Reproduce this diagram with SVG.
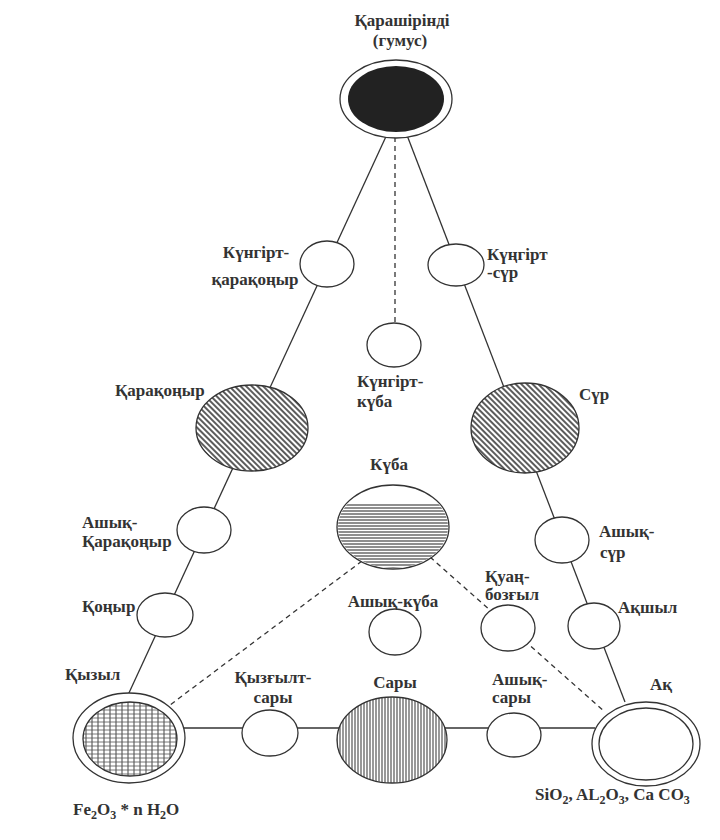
<svg xmlns="http://www.w3.org/2000/svg" width="720" height="840" viewBox="0 0 720 840">
<style>
.t{font-weight:bold;font-size:17px;fill:#333}
.m{text-anchor:middle}
.c{fill:#fff;stroke:#333;stroke-width:1.3}
.ln{stroke:#333;stroke-width:1.3;fill:none}
.ds{stroke:#333;stroke-width:1.3;fill:none;stroke-dasharray:5 4}
.s{font-size:12px}
</style>
<defs>
<pattern id="diag" width="4" height="4" patternUnits="userSpaceOnUse" patternTransform="rotate(-45)">
<rect width="4" height="4" fill="#fff"/><line x1="1" y1="0" x2="1" y2="4" stroke="#333" stroke-width="1.6"/></pattern>
<pattern id="vert" width="3" height="3" patternUnits="userSpaceOnUse">
<rect width="3" height="3" fill="#fff"/><line x1="1" y1="0" x2="1" y2="3" stroke="#444" stroke-width="1.1"/></pattern>
<pattern id="horz" width="3" height="3" patternUnits="userSpaceOnUse">
<rect width="3" height="3" fill="#fff"/><line x1="0" y1="1" x2="3" y2="1" stroke="#444" stroke-width="1.2"/></pattern>
<pattern id="grid" width="6" height="4" patternUnits="userSpaceOnUse">
<rect width="6" height="4" fill="#fff"/><line x1="2" y1="0" x2="2" y2="4" stroke="#444" stroke-width="1"/><line x1="0" y1="2" x2="6" y2="2" stroke="#555" stroke-width="0.8"/></pattern>
<clipPath id="kubaClip"><rect x="330" y="503" width="130" height="80"/></clipPath>
</defs>
<rect width="720" height="840" fill="#fff"/>
<g id="connectors">
<line class="ln" x1="389" y1="130" x2="128" y2="695"/>
<line class="ln" x1="405" y1="130" x2="625" y2="702"/>
<line class="ds" x1="395" y1="137" x2="395" y2="323"/>
<line class="ds" x1="362" y1="561" x2="170" y2="705"/>
<line class="ds" x1="430" y1="557" x2="605" y2="712"/>
<line class="ln" x1="180" y1="728" x2="595" y2="728"/>
</g>
<g font-family="'Liberation Serif', 'DejaVu Serif', serif">
<g id="humus">
<ellipse class="c" cx="396" cy="99" rx="56" ry="39"/>
<ellipse cx="396" cy="99" rx="48" ry="33" fill="#222"/>
<text class="t m" x="402" y="26">Қарашіріндi</text>
<text class="t m" x="400" y="46">(гумус)</text>
</g>
<g id="kungirt-karakonyr">
<ellipse class="c" cx="327" cy="264" rx="27" ry="23"/>
<text class="t m" x="256" y="258">Күнгірт-</text>
<text class="t m" x="255" y="285">қарақоңыр</text>
</g>
<g id="kungirt-sur">
<ellipse class="c" cx="456" cy="265" rx="28" ry="21"/>
<text class="t" x="487" y="260">Күңгірт</text>
<text class="t" x="487" y="278">-сүр</text>
</g>
<g id="kungirt-kuba">
<ellipse class="c" cx="394" cy="345" rx="27" ry="22"/>
<text class="t" x="357" y="387">Күнгірт-</text>
<text class="t" x="357" y="407">күба</text>
</g>
<g id="karakonyr">
<ellipse cx="252" cy="428" rx="56" ry="43" fill="url(#diag)" stroke="#333" stroke-width="1.3"/>
<text class="t" x="115" y="396">Қарақоңыр</text>
</g>
<g id="sur">
<ellipse cx="525" cy="428" rx="54" ry="45" fill="url(#diag)" stroke="#333" stroke-width="1.3"/>
<text class="t" x="579" y="400">Сүр</text>
</g>
<g id="kuba">
<ellipse class="c" cx="393" cy="527" rx="56" ry="42"/>
<ellipse cx="393" cy="527" rx="55" ry="41" fill="url(#horz)" clip-path="url(#kubaClip)"/>
<text class="t m" x="389" y="470">Күба</text>
</g>
<g id="ashyk-karakonyr">
<ellipse class="c" cx="204" cy="530" rx="27" ry="23"/>
<text class="t" x="82" y="528">Ашық-</text>
<text class="t" x="82" y="547">Қарақоңыр</text>
</g>
<g id="ashyk-sur">
<ellipse class="c" cx="562" cy="540" rx="27" ry="23"/>
<text class="t" x="599" y="537">Ашық-</text>
<text class="t" x="600" y="558">сүр</text>
</g>
<g id="konyr">
<ellipse class="c" cx="165" cy="615" rx="28" ry="22"/>
<text class="t" x="82" y="612">Қоңыр</text>
</g>
<g id="ashyk-kuba">
<ellipse class="c" cx="395" cy="632" rx="26" ry="23"/>
<text class="t m" x="393" y="607">Ашық-күба</text>
</g>
<g id="kuan-bozgyl">
<ellipse class="c" cx="508" cy="628" rx="27" ry="23"/>
<text class="t" x="485" y="582">Қуаң-</text>
<text class="t" x="485" y="600">бозғыл</text>
</g>
<g id="akshyl">
<ellipse class="c" cx="594" cy="626" rx="26" ry="23"/>
<text class="t" x="618" y="613">Ақшыл</text>
</g>
<g id="kyzyl">
<ellipse class="c" cx="129" cy="738" rx="56" ry="45"/>
<ellipse cx="130" cy="739" rx="47" ry="37" fill="url(#grid)" stroke="#333" stroke-width="1.3"/>
<text class="t" x="65" y="680">Қызыл</text>
<text class="t" x="73" y="815">Fe<tspan class="s" dy="4">2</tspan><tspan dy="-4">O</tspan><tspan class="s" dy="4">3</tspan><tspan dy="-4"> * n H</tspan><tspan class="s" dy="4">2</tspan><tspan dy="-4">O</tspan></text>
</g>
<g id="kyzgylt-sary">
<ellipse class="c" cx="270" cy="733" rx="28" ry="23"/>
<text class="t m" x="273" y="683">Қызғылт-</text>
<text class="t m" x="273" y="703">сары</text>
</g>
<g id="sary">
<ellipse cx="392" cy="740" rx="55" ry="43" fill="url(#vert)" stroke="#333" stroke-width="1.3"/>
<text class="t m" x="395" y="688">Сары</text>
</g>
<g id="ashyk-sary">
<ellipse class="c" cx="514" cy="735" rx="27" ry="22"/>
<text class="t" x="492" y="685">Ашық-</text>
<text class="t" x="492" y="703">сары</text>
</g>
<g id="ak">
<ellipse class="c" cx="646" cy="744" rx="54" ry="42"/>
<ellipse class="c" cx="646" cy="744" rx="47" ry="36"/>
<text class="t" x="650" y="690">Ақ</text>
<text class="t" x="535" y="800">SiO<tspan class="s" dy="4">2</tspan><tspan dy="-4">, AL</tspan><tspan class="s" dy="4">2</tspan><tspan dy="-4">O</tspan><tspan class="s" dy="4">3</tspan><tspan dy="-4">, Ca CO</tspan><tspan class="s" dy="4">3</tspan></text>
</g>
</g>
</svg>
